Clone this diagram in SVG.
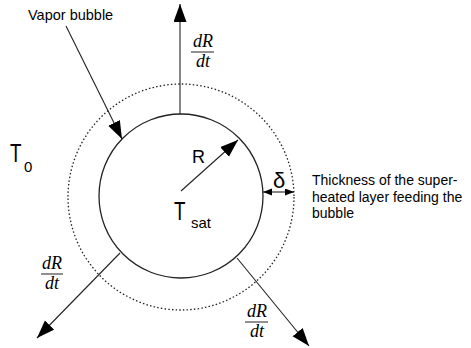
<svg xmlns="http://www.w3.org/2000/svg" width="471" height="348" viewBox="0 0 471 348">
<style>
.sans{font-family:"Liberation Sans",Arial,sans-serif;fill:#000}
.frac{font-family:"Liberation Serif","Times New Roman",serif;font-style:italic;font-size:18px;fill:#000;text-anchor:middle}
.ln{stroke:#222;stroke-width:1.1;fill:none}
</style>
<defs>
<marker id="ah" markerUnits="userSpaceOnUse" markerWidth="20" markerHeight="14" refX="18" refY="6.5" orient="auto">
<path d="M0,0 L18,6.5 L0,13 z" fill="#000"/>
</marker>
<marker id="sh" markerUnits="userSpaceOnUse" markerWidth="10" markerHeight="8" refX="9" refY="3.5" orient="auto-start-reverse">
<path d="M0,0 L9,3.5 L0,7 z" fill="#000"/>
</marker>
</defs>
<g id="layer">
<circle cx="181" cy="197" r="113" fill="none" stroke="#222" stroke-width="1.3" stroke-dasharray="1.5 2.2"/>
</g>
<g id="bubble">
<circle cx="181" cy="196" r="82" fill="none" stroke="#222" stroke-width="1.3"/>
</g>
<g id="connectors">
<line class="ln" x1="180" y1="114" x2="180" y2="4" marker-end="url(#ah)"/>
<line class="ln" x1="120" y1="253" x2="37" y2="338" marker-end="url(#ah)"/>
<line class="ln" x1="237" y1="258" x2="309" y2="346" marker-end="url(#ah)"/>
<line class="ln" x1="66" y1="26" x2="122" y2="139" marker-end="url(#ah)"/>
<line class="ln" x1="181" y1="191" x2="238" y2="140" marker-end="url(#ah)"/>
<line class="ln" x1="263" y1="192" x2="294" y2="192" marker-start="url(#sh)" marker-end="url(#sh)"/>
</g>
<g id="label-vapor">
<text class="sans" x="28" y="20" font-size="14.5">Vapor bubble</text>
</g>
<g id="label-T0">
<text class="sans" font-size="25" transform="translate(10,162) scale(0.75,1)">T</text>
<text class="sans" x="24" y="172" font-size="15">0</text>
</g>
<g id="label-R">
<text class="sans" x="192" y="163" font-size="18">R</text>
</g>
<g id="label-Tsat">
<text class="sans" font-size="25" transform="translate(174,220) scale(0.75,1)">T</text>
<text class="sans" x="191" y="228" font-size="15">sat</text>
</g>
<g id="label-delta">
<text class="sans" x="273" y="188" font-size="22">δ</text>
</g>
<g id="label-thickness">
<text class="sans" font-size="14"><tspan x="312" y="185">Thickness of the super-</tspan><tspan x="312" y="202">heated layer feeding the</tspan><tspan x="312" y="218">bubble</tspan></text>
</g>
<g id="rate-top">
<text class="frac" x="203" y="47">dR</text>
<line x1="191" y1="52" x2="214" y2="52" stroke="#222" stroke-width="1"/>
<text class="frac" x="203" y="67">dt</text>
</g>
<g id="rate-left">
<text class="frac" x="52" y="269">dR</text>
<line x1="41" y1="274" x2="63" y2="274" stroke="#222" stroke-width="1"/>
<text class="frac" x="52" y="289">dt</text>
</g>
<g id="rate-right">
<text class="frac" x="257" y="317">dR</text>
<line x1="245" y1="322" x2="268" y2="322" stroke="#222" stroke-width="1"/>
<text class="frac" x="257" y="337">dt</text>
</g>
</svg>
